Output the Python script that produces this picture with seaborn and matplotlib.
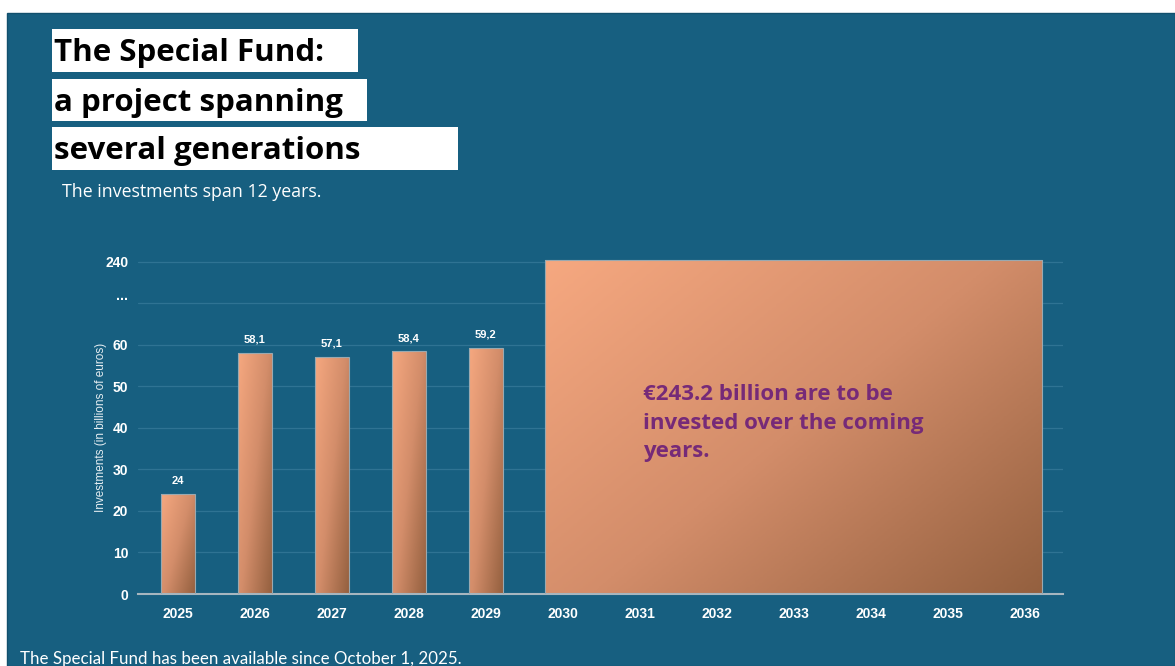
import numpy as np
import pandas as pd
import matplotlib
matplotlib.use("Agg")
import matplotlib.pyplot as plt
from matplotlib.patches import Rectangle
from matplotlib.colors import LinearSegmentedColormap
import seaborn as sns

# ---------------- data ----------------
years = ["2025", "2026", "2027", "2028", "2029", "2030", "2031",
         "2032", "2033", "2034", "2035", "2036"]
annual_years = ["2025", "2026", "2027", "2028", "2029"]
annual_values = [24, 58.1, 57.1, 58.4, 59.2]
span_start, span_end = "2030", "2036"
span_total = 243.2
ytick_values = [0, 10, 20, 30, 40, 50, 60, 150, 240]
ytick_labels = ["0", "10", "20", "30", "40", "50", "60", "...", "240"]

title_lines = ["The Special Fund:", "a project spanning", "several generations"]
subtitle = "The investments span 12 years."
footer = "The Special Fund has been available since October 1, 2025."
note = "€243.2 billion are to be\ninvested over the coming\nyears."
ylabel = "Investments (in billions of euros)"

# ---------------- style ----------------
sns.set_theme(style="white")
plt.rcParams["font.family"] = ["Liberation Sans", "DejaVu Sans"]

BG = "#175f80"
GRID = "#2f7393"
LIGHT = "#f6a880"
MID = "#d38d6a"
DARK = "#94603f"
cmap = LinearSegmentedColormap.from_list("copper", [LIGHT, MID, DARK])

W, H = 1175, 666
fig = plt.figure(figsize=(W / 100, H / 100), dpi=100, facecolor="white")


def fx(x):
    return x / W


def fy(y):
    return 1 - y / H


# background panel
fig.patches.append(Rectangle((fx(7), 0), 1 - fx(7), fy(13), transform=fig.transFigure,
                             facecolor=BG, edgecolor="#12506d", lw=1.0, zorder=-10))

# title boxes
boxes = [(52, 29, 358, 72), (52, 79, 367, 121), (52, 127, 458, 170)]
for (x0, y0, x1, y1), line in zip(boxes, title_lines):
    fig.patches.append(Rectangle((fx(x0), fy(y1)), fx(x1 - x0), (y1 - y0) / H,
                                 transform=fig.transFigure, facecolor="white",
                                 edgecolor="none", zorder=-5))
    fig.text(fx(54), fy((y0 + y1) / 2 + 3), line, fontsize=22.5, fontweight="bold",
             family=["Open Sans", "DejaVu Sans"], color="black", ha="left", va="center")

fig.text(fx(62), fy(192), subtitle, fontsize=12.8, color="white", ha="left", va="center",
         family=["Open Sans", "DejaVu Sans"])
fig.text(fx(20), fy(659), footer, fontsize=12.2, color="white", ha="left", va="center",
         family=["Lato", "DejaVu Sans"])

# ---------------- axes ----------------
ax = fig.add_axes([fx(138), fy(594), fx(1063 - 138), (594 - 257) / H])
ax.set_facecolor("none")

df = pd.DataFrame({"year": annual_years, "value": annual_values})
sns.barplot(data=df, x="year", y="value", order=years, width=0.44, ax=ax,
            color=LIGHT, saturation=1, errorbar=None)

i0, i1 = years.index(span_start), years.index(span_end)
bar_w = 0.46
ax.bar((i0 + i1) / 2, span_total, width=(i1 - i0) + bar_w, color=LIGHT)


def fwd(v):
    v = np.asarray(v, dtype=float)
    return np.where(v <= 60, v, 60 + (v - 60) / 9)


def inv(d):
    d = np.asarray(d, dtype=float)
    return np.where(d <= 60, d, 60 + (d - 60) * 9)


ax.set_yscale("function", functions=(fwd, inv))
XLIM = (-0.52, len(years) - 0.5)
YLIM = (0, 250)
ax.set_xlim(*XLIM)
ax.set_ylim(*YLIM)

# gradient fills
patches = list(ax.patches)
for p in patches:
    x0, y0, w, h = p.get_x(), p.get_y(), p.get_width(), p.get_height()
    if not np.isfinite(h) or h == 0:
        continue
    pts = ax.transData.transform([[x0, y0], [x0 + w, y0 + h]])
    a = ax.transAxes.inverted().transform(pts)
    nx, ny = 120, 240
    u = np.linspace(0, 1, nx)[None, :]
    v = np.linspace(0, 1, ny)[:, None]
    t = 0.55 * u + 0.45 * v
    im = ax.imshow(t, cmap=cmap, vmin=0, vmax=1,
                   extent=[a[0, 0], a[1, 0], a[0, 1], a[1, 1]],
                   transform=ax.transAxes, origin="upper", aspect="auto",
                   interpolation="bilinear", zorder=2.5)
    im.set_clip_path(p)
    p.set_facecolor("none")
    p.set_edgecolor("#9aa9b0")
    p.set_linewidth(0.8)
    p.set_zorder(3)

ax.set_xlim(*XLIM)
ax.set_ylim(*YLIM)

# value labels
for yr, val in zip(annual_years, annual_values):
    ax.annotate(f"{val:g}".replace(".", ","), (years.index(yr), val),
                xytext=(0, 6), textcoords="offset points", ha="center", va="bottom",
                fontsize=8, fontweight="bold", color="white")

# ticks and grid
ax.set_yticks(ytick_values)
ax.set_yticklabels(ytick_labels)
for lbl, txt in zip(ax.get_yticklabels(), ytick_labels):
    if txt == "...":
        lbl.set_va("bottom")
ax.tick_params(axis="both", length=0, labelsize=10, labelcolor="white")
ax.tick_params(axis="y", pad=7)
ax.tick_params(axis="x", pad=9)
for lbl in ax.get_xticklabels() + ax.get_yticklabels():
    lbl.set_fontweight("bold")
ax.set_axisbelow(True)
ax.yaxis.grid(True, color=GRID, lw=0.9)
ax.xaxis.grid(False)
for s in ["top", "right", "left"]:
    ax.spines[s].set_visible(False)
ax.spines["bottom"].set_color("#a7b6bf")
ax.spines["bottom"].set_linewidth(1.5)
ax.set_xlabel("")
ax.set_ylabel("")

fig.text(fx(101), fy(427), ylabel, rotation=90, fontsize=8.5, color="#e6eef2",
         ha="center", va="center")

# note inside the big block
fig.text(fx(643), fy(423), note, fontsize=16, fontweight="bold", color="#762a78",
         family=["Open Sans", "DejaVu Sans"], ha="left", va="center", linespacing=1.44)

fig.savefig("out.png", dpi=100, facecolor="white")
